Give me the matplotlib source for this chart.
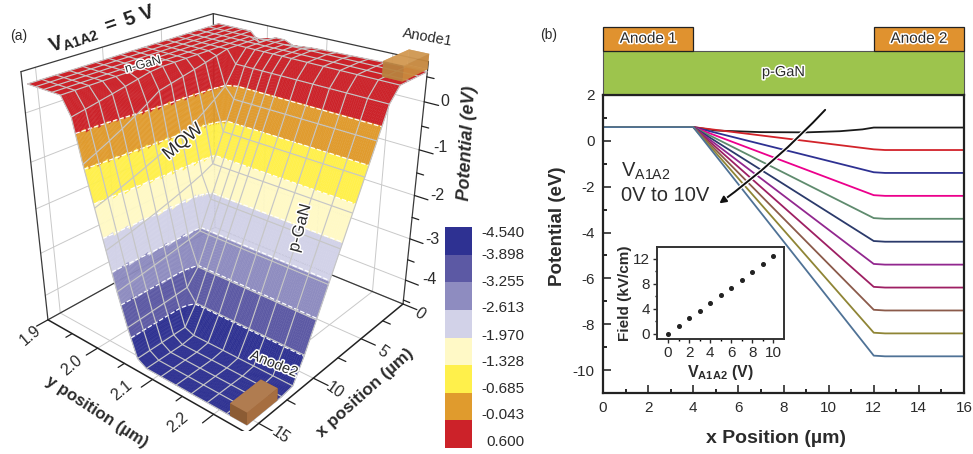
import numpy as np
import matplotlib
matplotlib.use('Agg')
import matplotlib.pyplot as plt
import matplotlib.patheffects as pe
from matplotlib.patches import Rectangle

plt.rcParams['font.family'] = ['Liberation Sans', 'DejaVu Sans']
plt.rcParams['mathtext.fontset'] = 'custom'
plt.rcParams['mathtext.rm'] = 'Liberation Sans'
plt.rcParams['mathtext.bf'] = 'Liberation Sans:bold'
plt.rcParams['mathtext.it'] = 'Liberation Sans:italic'
plt.rcParams['axes.unicode_minus'] = False
TXT = '#2b2b2b'

# ---- data (a)
x_grid = list(range(17))
potential_along_x = [.6, .6, .6, .6, .33, -.28, -.88, -1.48, -2.08, -2.68, -3.28, -3.88, -4.38, -4.42, -4.42, -4.42, -4.42]
wall_offset_y = [.04, .0375, .035, .0325, .03, .0275, .025, .0225, .02, .0175, .015, .0125, .01, .0075, .005, .0025, 0]
y_grid = [1.91, 1.925, 1.94, 1.955, 1.97, 1.986, 2.0, 2.015, 2.03, 2.045, 2.06, 2.075, 2.09, 2.115, 2.14, 2.165, 2.19, 2.22, 2.25]
potential_wall = [.6, .6, .6, .6, .6, .25, -.6, -1.4, -2.2, -3.0, -3.7, -4.3, -4.42, -4.42, -4.42, -4.42, -4.42, -4.42, -4.42]
potential_back_edge = [.6, .6, .6, .6, .6, .4, .5, .58, .58, .5, .52, .54, .55, .56, .57, .58, .59, .6, .6]
band_levels = [-4.540, -3.898, -3.255, -2.613, -1.970, -1.328, -0.685, -0.043, 0.600]
band_colors = ['#2E3192', '#5C59A4', '#8E8CC0', '#D2D2E8', '#FFF9C6', '#FFF04B', '#E09B2D', '#CC2229']
x_ticks3d = [0, 5, 10, 15]
y_ticks3d = [1.9, 2.0, 2.1, 2.2]
z_ticks3d = [0, -1, -2, -3, -4]
# ---- data (b)
x_nodes = [0, 4, 12, 12.5, 16]
curve_ends = [0.6, -.4, -1.4, -2.4, -3.4, -4.4, -5.4, -6.4, -7.4, -8.4, -9.4]
curve0_x = [0, 4, 5, 7, 9, 10.5, 11.5, 12, 16]
curve0_y = [.6, .6, .45, .38, .37, .42, .5, .58, .58]
curve_colors = ['#1a1a1a', '#D2232A', '#2E3192', '#EC008C', '#5F8B6E', '#2B3A6B', '#92278F', '#9E1F63', '#8B5A4A', '#8F8535', '#4F7296']
field_v = list(range(11))
field_kv = [0, 1.2, 2.5, 3.7, 4.9, 6.2, 7.4, 8.7, 9.9, 11.2, 12.4]

W, H = 973, 454
fig = plt.figure(figsize=(W/100, H/100), dpi=100)

# ---------- 3D panel
xlim, ylim, zlim = (0, 16), (1.9, 2.25), (-4.6, 0.8)
ax = fig.add_axes([0.0, 0.0, 0.46, 0.98], projection='3d', computed_zorder=False)
ax.set_xlim(*xlim, view_margin=0); ax.set_ylim(*ylim, view_margin=0); ax.set_zlim(*zlim, view_margin=0)
ax.set_axis_off()
ax.patch.set_alpha(0)
ax.view_init(26.478, 40.245)
ax.set_proj_type('persp', focal_length=0.3599)
ax.set_box_aspect((0.983, 0.9905, 1))
s, ox, oy = 2456.9, 228.01, 197.59

def place(ax, s, ox, oy):
    ax.set_position([0.1, 0.1, 0.4, 0.4*W/H])
    ax.apply_aspect()
    pos = ax.get_position()
    T_ = ax.transData
    a0, a1 = T_.transform((0, 0)), T_.transform((1, 0))
    k = a1[0]-a0[0]
    L = pos.width*W
    L2 = L*s/k
    rel = (a0[0]-pos.x0*W)/L, (a0[1]-pos.y0*H)/(pos.height*H)
    left = ox-rel[0]*L2
    bottom = (H-oy)-rel[1]*L2
    ax.set_position([left/W, bottom/H, L2/W, L2/H])
place(ax, s, ox, oy)

# surface table from the profiles read along its edges
xg, yg = np.array(x_grid, float), np.array(y_grid, float)
vx, off, wall, edge = map(np.array, (potential_along_x, wall_offset_y, potential_wall, potential_back_edge))
def wall_at(y, d):
    z = np.interp(y-d, yg, wall)
    for _ in range(4):
        z = np.interp(y-d*(z+4.42)/5.02, yg, wall)
    return z
Zc = np.array([[max(v, wall_at(y, d)) for v, d in zip(vx, off)] for y in yg])
Zc = np.minimum(Zc, .6)
Zc[:, 0] = edge
Xc, Yc = np.meshgrid(xg, yg)

x_f = np.unique(np.concatenate([np.linspace(a, b_, 13)[:-1] for a, b_ in zip(xg[:-1], xg[1:])]+[[16]]))
y_f = np.unique(np.concatenate([np.linspace(a, b_, 12)[:-1] for a, b_ in zip(yg[:-1], yg[1:])]+[[2.25]]))
Zy = np.array([np.interp(y_f, yg, Zc[:, j]) for j in range(len(xg))]).T
Zf = np.array([np.interp(x_f, xg, row) for row in Zy])
Xf, Yf = np.meshgrid(x_f, y_f)
Zm = (Zf[:-1, :-1]+Zf[1:, :-1]+Zf[:-1, 1:]+Zf[1:, 1:])/4
idx = np.clip(np.digitize(Zm, band_levels)-1, 0, 7)
rgba = matplotlib.colors.to_rgba_array(band_colors)[idx.ravel()].reshape(idx.shape+(4,))

BOX = '#3a3a3a'; GRID = '#c9c9c9'
def line(a, b_, c=BOX, lw=.9, z=1):
    ax.plot([a[0], b_[0]], [a[1], b_[1]], [a[2], b_[2]], color=c, lw=lw, zorder=z, solid_capstyle='round')
x0, x1 = xlim; y0, y1 = ylim; z0, z1 = zlim
for t in z_ticks3d:
    line((x1, y0, t), (x0, y0, t), GRID, .7, .5)
    line((x0, y0, t), (x0, y1, t), GRID, .7, .5)
for t in x_ticks3d:
    line((t, y0, z0), (t, y0, z1), GRID, .7, .5)
    line((t, y0, z0), (t, y1, z0), GRID, .7, .5)
for t in y_ticks3d:
    line((x0, t, z0), (x0, t, z1), GRID, .7, .5)
    line((x0, t, z0), (x1, t, z0), GRID, .7, .5)
line((x1, y0, z1), (x0, y0, z1)); line((x0, y0, z1), (x0, y1, z1))
line((x1, y0, z0), (x1, y0, z1)); line((x0, y0, z0), (x0, y0, z1)); line((x0, y1, z0), (x0, y1, z1))
line((x1, y0, z0), (x0, y0, z0)); line((x0, y0, z0), (x0, y1, z0))
line((x1, y0, z0), (x1, y1, z0), '#222', 1.1, 5); line((x1, y1, z0), (x0, y1, z0), '#222', 1.1, 5)

ax.plot_surface(Xf, Yf, Zf, facecolors=rgba, rstride=1, cstride=1, shade=False, linewidth=.3, zorder=2)
ax.contour(Xf, Yf, Zf, levels=band_levels[1:-1], colors='white', linewidths=.9, zorder=3)
ax.plot_wireframe(Xc, Yc, Zc, rstride=1, cstride=1, color='#c6c6c6', linewidth=.85, zorder=4)

# ticks
def tick3(pt, d, ln):
    line(pt, (pt[0]+d[0]*ln, pt[1]+d[1]*ln, pt[2]), '#222', .9, 5)
for t in [1.9, 1.95, 2.0, 2.05, 2.1, 2.15, 2.2]:
    tick3((x1, t, z0), (1, 0), .9 if abs(t*10-round(t*10)) < 1e-6 else .5)
for t in x_ticks3d+[2.5, 7.5, 12.5]:
    tick3((t, y1, z0), (0, 1), .022 if t in x_ticks3d else .012)
for t in np.arange(-4.5, .8, .5):
    line((x0, y1, t), (x0, y1+(.02 if t == int(t) else .01), t), '#222', .9, 5)

# anodes (faces: -Z +Z -Y +Y -X +X)
ax.bar3d(0, 2.222, .65, 2.8, .028, .3, color=['#C98A3E', '#D59C55', '#C98A3E', '#C98A3E', '#B5803F', '#B5803F'], alpha=.78, shade=False, zorder=6)
ax.bar3d(13.4, 2.225, -4.42, 2.6, .025, .27, color=['#A66E40', '#B07C50', '#A66E40', '#A66E40', '#8C5C34', '#8C5C34'], shade=False, zorder=6)

halo = [pe.withStroke(linewidth=2.2, foreground='white')]
def T(px, py, s_, **k):
    k.setdefault('color', TXT); k.setdefault('ha', 'center'); k.setdefault('va', 'center')
    return fig.text(px/W, 1-py/H, s_, **k)
T(19, 36, '(a)', fontsize=10); T(549, 35, '(b)', fontsize=10)
T(102, 30, r'$\mathbf{V_{A1A2}}$ $\mathbf{=}$ $\mathbf{5}$ $\mathbf{V}$', fontsize=14.5, rotation=19, color='#222')
T(143, 65, 'n-GaN', fontsize=9, rotation=15, path_effects=halo)
T(183, 142, 'MQW', fontsize=13, rotation=40, path_effects=halo)
T(300, 228, 'p-GaN', fontsize=12, rotation=75, path_effects=halo)
T(274, 364, 'Anode2', fontsize=10.5, rotation=-22, path_effects=halo)
T(428, 37, 'Anode1', fontsize=10.5, rotation=-10)
T(468, 143, 'Potential (eV)', fontsize=13, rotation=87, fontweight='bold', fontstyle='italic')
T(97, 412, 'y position (µm)', fontsize=12, rotation=-33, fontweight='bold')
T(365, 393, 'x position (µm)', fontsize=12.5, rotation=42, fontweight='bold')
for t, (px, py) in zip(y_ticks3d, [(30, 335), (72, 365), (122, 390), (178, 422)]):
    T(px, py, f'{t:.1f}', fontsize=11.5, rotation=40)
for t, (px, py) in zip(x_ticks3d, [(420, 314), (383, 352), (335, 390), (281, 435)]):
    T(px, py, str(t), fontsize=11.5, rotation=-35)
for t, (px, py) in zip(z_ticks3d, [(445, 102), (440, 148), (437, 195), (432, 240), (429, 280)]):
    T(px, py, str(t), fontsize=11.5, ha='center')

# colour bar
cb = fig.add_axes([445/W, 1-448/H, 27/W, 221/H])
cb.pcolormesh([0, 1], np.arange(9), np.arange(8).reshape(-1, 1), cmap=matplotlib.colors.ListedColormap(band_colors), shading='flat')
cb.set_ylim(8, 0); cb.axis('off')
label_pos = [.2, 1.03, 1.98, 2.95, 3.93, 4.88, 5.85, 6.82, 7.78]
for yy, lv in zip(label_pos, band_levels):
    cb.text(2.93, yy, f'{lv:.3f}', ha='right', va='center', fontsize=11, color=TXT, clip_on=False)

# ---------- right panel
b = fig.add_axes([603/W, 1-393/H, 361/W, 298/H])
b.set_xlim(0, 16); b.set_ylim(-11, 2)
b.plot(curve0_x, curve0_y, color=curve_colors[0], lw=1.3)
for e, c in zip(curve_ends[1:], curve_colors[1:]):
    b.plot(x_nodes, [curve_ends[0], curve_ends[0], e+.03, e, e], color=c, lw=1.3)
b.set_xticks(range(0, 17, 2)); b.set_xticks(range(1, 16, 2), minor=True)
b.set_yticks(range(-10, 3, 2)); b.set_yticks(range(-9, 2, 2), minor=True)
b.tick_params(which='major', direction='in', length=6, width=1.2, labelsize=11, colors=TXT, pad=6)
b.tick_params(which='minor', direction='in', length=3, width=1.2)
for sp in b.spines.values():
    sp.set_linewidth(1.6); sp.set_color('#222')
b.set_xlabel('x Position (µm)', fontsize=14, fontweight='bold', color=TXT)
b.xaxis.set_label_coords(.479, -.125)
b.set_ylabel('Potential (eV)', fontsize=13.5, fontweight='bold', color=TXT)
b.yaxis.set_label_coords(-.102, .56)
b.add_patch(Rectangle((0, 2), 16, 1.93, fc='#9DC44D', ec='#555', lw=.8, clip_on=False))
for xs in (0, 12):
    b.add_patch(Rectangle((xs, 3.93), 4, 1.02, fc='#E0922F', ec='#222', lw=.9, clip_on=False))
b.text(2, 4.45, 'Anode 1', ha='center', va='center', fontsize=11, color=TXT, path_effects=halo)
b.text(14, 4.45, 'Anode 2', ha='center', va='center', fontsize=11, color=TXT, path_effects=halo)
b.text(8, 3, 'p-GaN', ha='center', va='center', fontsize=10.5, color=TXT, path_effects=halo)
b.annotate('', xy=(5.05, -2.8), xytext=(9.93, 1.44), arrowprops=dict(arrowstyle='-|>', color='#111', lw=1.4, connectionstyle='arc3,rad=-0.05',
           path_effects=[pe.withStroke(linewidth=3, foreground='white')]))
b.text(.8, -1.35, r'$\mathrm{V_{A1A2}}$', fontsize=14.5, color=TXT, ha='left', va='center')
b.text(.8, -2.4, '0V to 10V', fontsize=14.5, color=TXT, ha='left', va='center')

ins = fig.add_axes([657/W, 1-339/H, 127/W, 92/H])
ins.plot(field_v, field_kv, 'o', color='#222', ms=2.6)
ins.set_xlim(-1.05, 11); ins.set_ylim(-.8, 13.9)
ins.set_xticks(range(0, 11, 2)); ins.set_yticks(range(0, 13, 4))
ins.set_xticks(range(1, 10, 2), minor=True); ins.set_yticks(range(2, 13, 4), minor=True)
ins.tick_params(which='major', direction='out', length=3, width=1, labelsize=11, colors=TXT, pad=2)
ins.tick_params(which='minor', direction='out', length=1.5, width=1)
for sp in ins.spines.values():
    sp.set_linewidth(1.4); sp.set_color('#333')
ins.set_xlabel(r'$\mathbf{V_{A1A2}}$ $\mathbf{(V)}$', fontsize=11.5, color=TXT, labelpad=2)
ins.set_ylabel('Field (kV/cm)', fontsize=11, fontweight='bold', color=TXT, labelpad=1)

fig.savefig('out.png', dpi=100)
